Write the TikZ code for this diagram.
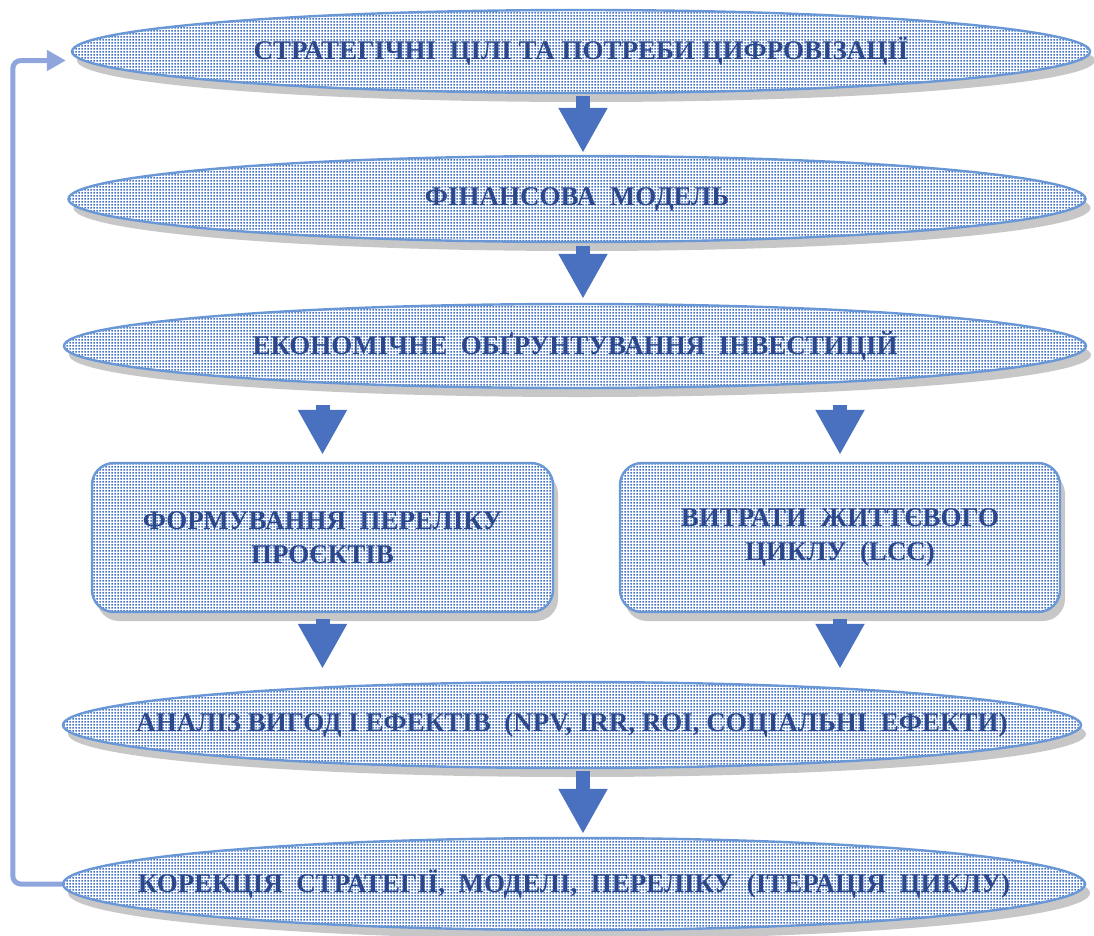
\documentclass[tikz,border=0pt]{standalone}
\usepackage{fontspec}
\setmainfont{Liberation Serif}
\usetikzlibrary{shapes.geometric,patterns.meta,shadows,arrows.meta,calc}
\definecolor{dotblue}{RGB}{68,114,196}
\definecolor{edgeblue}{RGB}{106,152,214}
\definecolor{txtblue}{RGB}{44,72,138}
\definecolor{loopblue}{RGB}{142,166,219}
\definecolor{arrblue}{RGB}{74,112,192}
\tikzdeclarepattern{name=fine dots, type=uncolored,
  bounding box={(0pt,0pt) and (3pt,3pt)}, tile size={(3pt,3pt)},
  code={\pgfpathrectangle{\pgfpoint{0.5pt}{0.5pt}}{\pgfpoint{2pt}{2pt}}\pgfusepath{fill}}}
\tikzset{
  shapebase/.style={draw=edgeblue, line width=2.4pt, inner sep=0pt,
    drop shadow={shadow xshift=5pt, shadow yshift=-9pt, fill=black!40, opacity=0.55},
    preaction={fill=white}, pattern={fine dots}, pattern color=dotblue},
  ell/.style={shapebase, ellipse},
  boxnode/.style={shapebase, rectangle, rounded corners=22pt, minimum width=461pt, minimum height=149pt},
  lbl/.style={font=\fontsize{27}{34}\selectfont\bfseries, text=txtblue, align=center, inner sep=0pt},
  barrow/.style={draw=arrblue, line width=14pt, -{Triangle[width=46pt,length=45pt]}},
  loopline/.style={draw=loopblue, line width=5pt, rounded corners=8pt, -{Triangle[width=20pt,length=19pt]}}
}
\begin{document}
\begin{tikzpicture}[x=1pt,y=-1pt]
\useasboundingbox (0,0) rectangle (1094,935);
% ellipses
\node[ell, minimum width=1018pt, minimum height=83pt] (e1) at (581,51.5) {};
\node[ell, minimum width=1017pt, minimum height=86pt] (e2) at (577,199) {};
\node[ell, minimum width=1022pt, minimum height=84pt] (e3) at (575,346) {};
\node[boxnode] (r1) at (322.5,537.5) {};
\node[boxnode, minimum width=440pt] (r2) at (840,537.5) {};
\node[ell, minimum width=1018pt, minimum height=86pt] (e4) at (572,725) {};
\node[ell, minimum width=1022pt, minimum height=92pt] (e5) at (574,884) {};
% labels
\node[lbl] (t1) at (e1) {СТРАТЕГІЧНІ~ ЦІЛІ ТА ПОТРЕБИ ЦИФРОВІЗАЦІЇ};
\node[lbl] (t2) at (e2) {ФІНАНСОВА~ МОДЕЛЬ};
\node[lbl] (t3) at (e3) {ЕКОНОМІЧНЕ~ ОБҐРУНТУВАННЯ~ ІНВЕСТИЦІЙ};
\node[lbl] (t4) at (r1) {ФОРМУВАННЯ~ ПЕРЕЛІКУ\\ПРОЄКТІВ};
\node[lbl] (t5) at (r2) {ВИТРАТИ~ ЖИТТЄВОГО\\ЦИКЛУ~ (LCC)};
\node[lbl] (t6) at (e4) {АНАЛІЗ ВИГОД І ЕФЕКТІВ~ (NPV, IRR, ROI, СОЦІАЛЬНІ~ ЕФЕКТИ)};
\node[lbl] (t7) at (e5) {КОРЕКЦІЯ~ СТРАТЕГІЇ,~ МОДЕЛІ,~ ПЕРЕЛІКУ~ (ІТЕРАЦІЯ~ ЦИКЛУ)};
% block arrows
\draw[barrow, shorten <=2pt, shorten >=2pt] ([xshift=2pt]e1.south) -- ([xshift=6pt]e2.north);
\draw[barrow, shorten <=3pt, shorten >=4pt] ([xshift=6pt]e2.south) -- ([xshift=8pt]e3.north);
\draw[barrow, shorten <=16pt, shorten >=7pt] (e3.south -| r1.north) -- (r1.north);
\draw[barrow, shorten <=16pt, shorten >=7pt] (e3.south -| r2.north) -- (r2.north);
\draw[barrow, shorten <=6pt, shorten >=12pt] (r1.south) -- (r1.south |- e4.north);
\draw[barrow, shorten <=6pt, shorten >=12pt] (r2.south) -- (r2.south |- e4.north);
\draw[barrow, shorten <=2pt, shorten >=3pt] ([xshift=11pt]e4.south) -- ([xshift=9pt]e5.north);
% feedback loop
\draw[loopline, shorten >=5pt] (e5.west) -- ++(-49,0) |- ([yshift=-9pt]e1.west);
\end{tikzpicture}
\end{document}
